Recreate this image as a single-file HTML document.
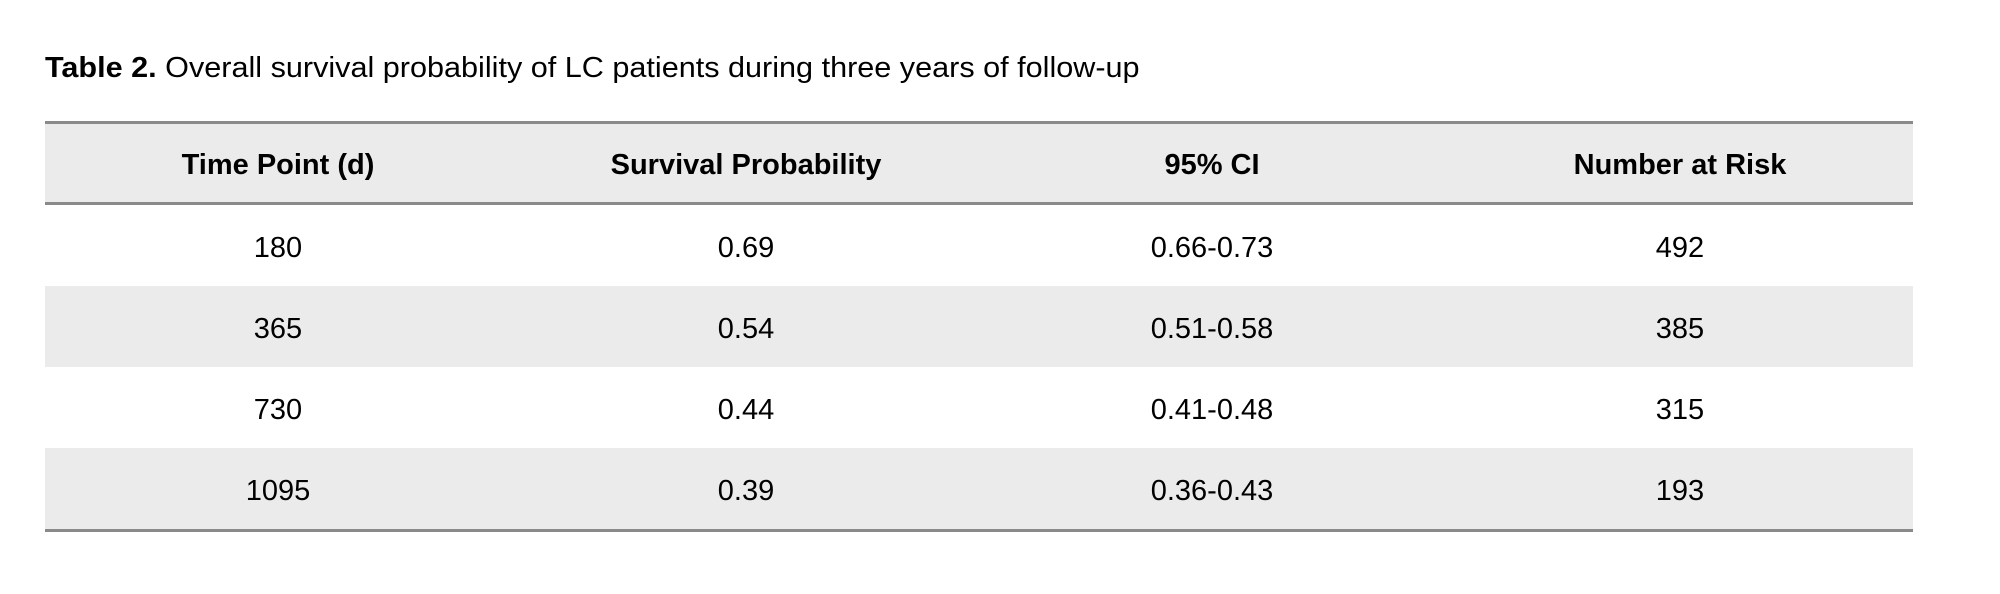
<!DOCTYPE html>
<html><head><meta charset="utf-8"><style>
html,body{margin:0;padding:0;background:#fff;width:2000px;height:594px;overflow:hidden;font-family:"Liberation Sans",sans-serif;color:#000}
.title{position:absolute;left:45px;top:52px;font-size:29px;white-space:nowrap;transform-origin:left center;transform:scaleX(1.055)}
.tb{position:absolute;left:45px;top:121px;width:1868px}
.row{position:relative;height:81px;}
.g{background:#ebebeb}
.c{position:absolute;top:0;height:100%;box-sizing:border-box;padding-top:6px;display:flex;align-items:center;justify-content:center;font-size:29px;width:400px;margin-left:-200px}
.h .c{font-weight:bold;font-size:29px;padding-top:4px}
.line{height:3px;background:#8a8a8a}
</style></head><body>
<div class="title"><b>Table 2.</b> Overall survival probability of LC patients during three years of follow-up</div>
<div class="tb">
<div class="line"></div>
<div class="row g h" style="height:78px"><div class="c" style="left:233px">Time Point (d)</div><div class="c" style="left:701px">Survival Probability</div><div class="c" style="left:1167px">95% CI</div><div class="c" style="left:1635px">Number at Risk</div></div>
<div class="line"></div>
<div class="row"><div class="c" style="left:233px">180</div><div class="c" style="left:701px">0.69</div><div class="c" style="left:1167px">0.66-0.73</div><div class="c" style="left:1635px">492</div></div>
<div class="row g"><div class="c" style="left:233px">365</div><div class="c" style="left:701px">0.54</div><div class="c" style="left:1167px">0.51-0.58</div><div class="c" style="left:1635px">385</div></div>
<div class="row"><div class="c" style="left:233px">730</div><div class="c" style="left:701px">0.44</div><div class="c" style="left:1167px">0.41-0.48</div><div class="c" style="left:1635px">315</div></div>
<div class="row g"><div class="c" style="left:233px">1095</div><div class="c" style="left:701px">0.39</div><div class="c" style="left:1167px">0.36-0.43</div><div class="c" style="left:1635px">193</div></div>
<div class="line"></div>
</div>
</body></html>
